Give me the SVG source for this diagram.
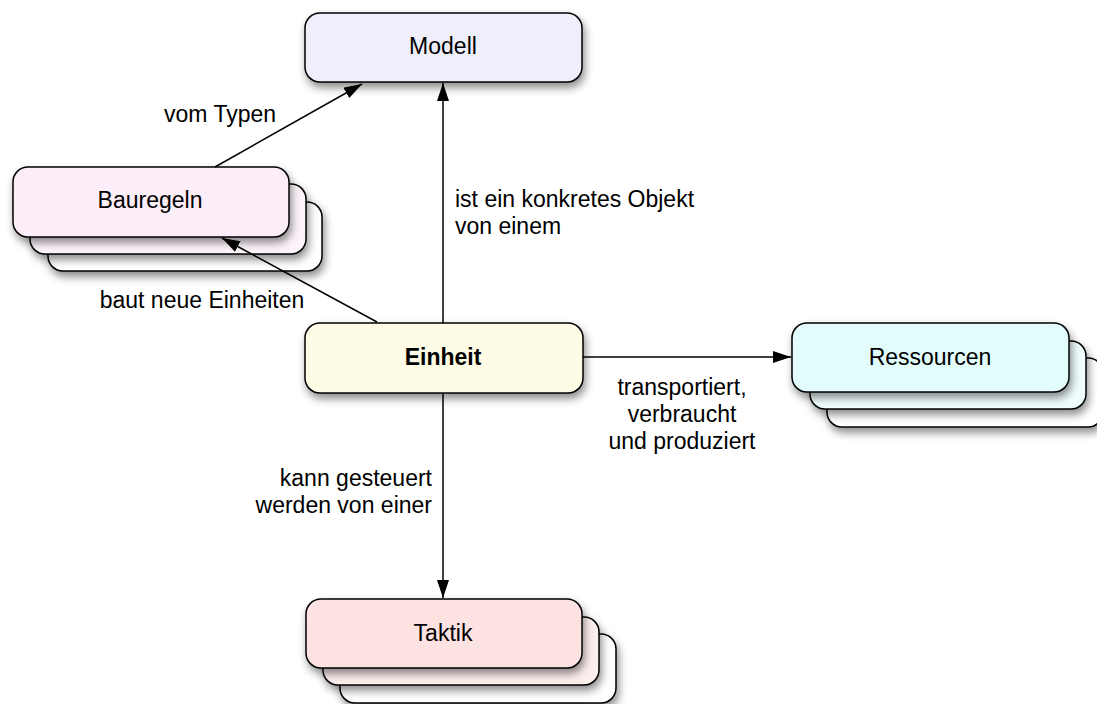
<svg xmlns="http://www.w3.org/2000/svg" width="1097" height="704" viewBox="0 0 1097 704">
<defs>
<filter id="sh" x="-10%" y="-20%" width="125%" height="160%">
<feDropShadow dx="2" dy="5" stdDeviation="4" flood-color="#000" flood-opacity="0.45"/>
</filter>
<marker id="arb" viewBox="0 0 18 12" refX="18" refY="6" markerWidth="18" markerHeight="12" markerUnits="userSpaceOnUse" orient="auto">
<path d="M0,0 L18,6 L0,12 z" fill="#000"/>
</marker>
</defs>
<style>
.box{stroke:#000;stroke-width:1.5;filter:url(#sh)}
.lbl{font-family:"Liberation Sans",Arial,sans-serif;font-size:23px;fill:#000}
.ctr{text-anchor:middle}
.end{text-anchor:end}
.con{stroke:#000;stroke-width:1.5;fill:none;marker-end:url(#arb)}
</style>
<rect width="1097" height="704" fill="#fff"/>
<g id="modell">
<rect class="box" x="305" y="13" width="277" height="69" rx="15" fill="#EFEFFC"/>
<text class="lbl ctr" x="443" y="54">Modell</text>
</g>
<g id="bauregeln">
<rect class="box" x="48" y="202" width="274" height="69" rx="15" fill="#fff"/>
<rect class="box" x="30" y="184" width="276" height="70" rx="15" fill="#FDF4FB"/>
<rect class="box" x="13" y="167" width="276" height="70" rx="15" fill="#FCEEF8"/>
<text class="lbl ctr" x="150" y="208">Bauregeln</text>
</g>
<g id="einheit">
<rect class="box" x="305" y="323" width="278" height="70" rx="15" fill="#FEFCE4" stroke-width="3"/>
<text class="lbl ctr" x="443" y="365" font-weight="bold">Einheit</text>
</g>
<g id="ressourcen">
<rect class="box" x="827" y="358" width="276" height="69" rx="15" fill="#fff"/>
<rect class="box" x="810" y="341" width="276" height="68" rx="15" fill="#EFFDFD"/>
<rect class="box" x="792" y="323" width="277" height="69" rx="15" fill="#E2FCFC"/>
<text class="lbl ctr" x="930" y="365">Ressourcen</text>
</g>
<g id="taktik">
<rect class="box" x="340" y="634" width="276" height="69" rx="15" fill="#fff"/>
<rect class="box" x="323" y="617" width="276" height="68" rx="15" fill="#FDEEEE"/>
<rect class="box" x="306" y="599" width="276" height="69" rx="15" fill="#FDE2E2"/>
<text class="lbl ctr" x="443" y="641">Taktik</text>
</g>
<g id="connectors">
<line class="con" x1="443" y1="323" x2="443" y2="83"/>
<line class="con" x1="215" y1="167" x2="362" y2="84"/>
<line class="con" x1="377" y1="322" x2="222" y2="238"/>
<line class="con" x1="583" y1="357" x2="791" y2="357"/>
<line class="con" x1="443" y1="394" x2="443" y2="598"/>
<text class="lbl ctr" x="220" y="122">vom Typen</text>
<text class="lbl" x="455" y="207">ist ein konkretes Objekt</text>
<text class="lbl" x="455" y="234">von einem</text>
<text class="lbl ctr" x="202" y="308">baut neue Einheiten</text>
<text class="lbl ctr" x="682" y="395">transportiert,</text>
<text class="lbl ctr" x="682" y="422">verbraucht</text>
<text class="lbl ctr" x="682" y="449">und produziert</text>
<text class="lbl end" x="432" y="486">kann gesteuert</text>
<text class="lbl end" x="432" y="513">werden von einer</text>
</g>
</svg>
